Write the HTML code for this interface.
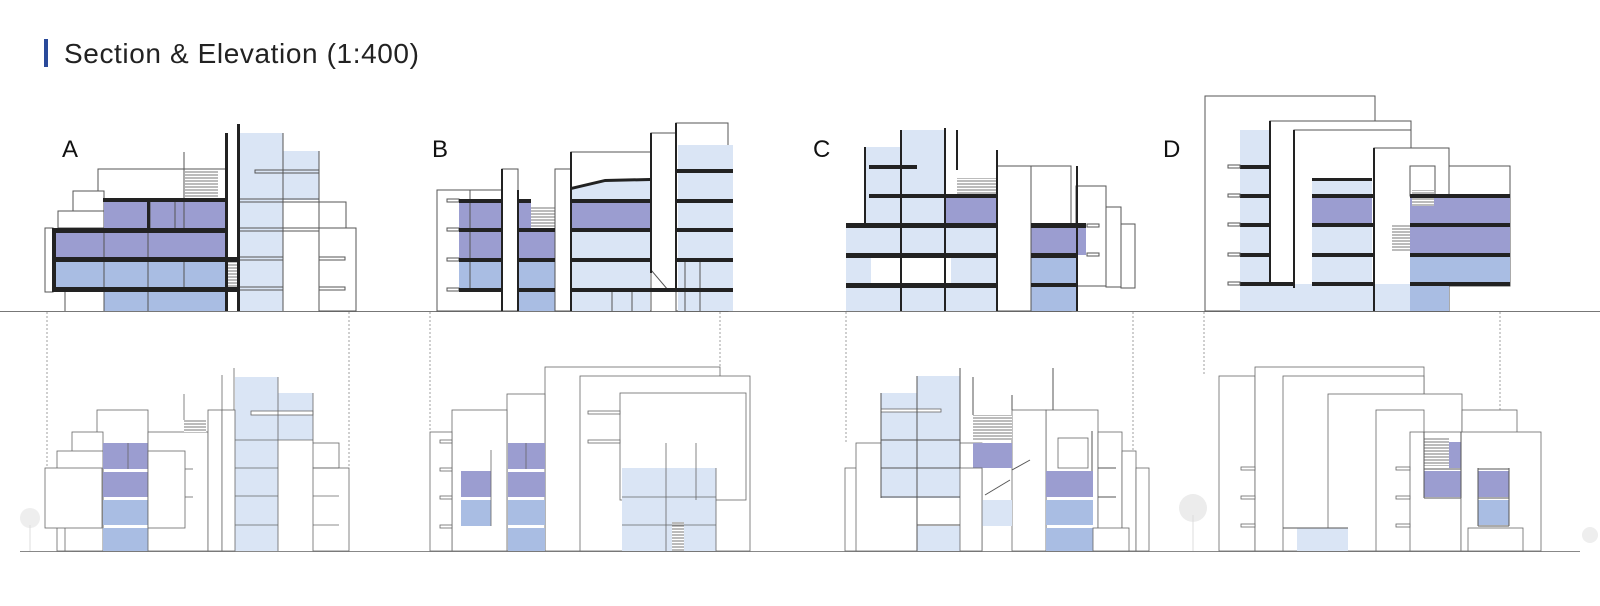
<!DOCTYPE html>
<html><head><meta charset="utf-8"><style>
html,body{margin:0;padding:0;background:#fff;}
svg{display:block}
</style></head><body>
<svg width="1600" height="606" viewBox="0 0 1600 606" xmlns="http://www.w3.org/2000/svg" font-family="Liberation Sans, sans-serif">
<defs>
<pattern id="st" width="6" height="3" patternUnits="userSpaceOnUse"><rect width="6" height="3" fill="#fff"/><line x1="0" y1="1" x2="6" y2="1" stroke="#777" stroke-width="1"/></pattern>
</defs>
<rect x="44" y="39" width="4" height="28" fill="#2a4a9a"/>
<text x="64" y="63" font-size="28" letter-spacing="0.6" fill="#222">Section &amp; Elevation (1:400)</text>
<g font-size="24" fill="#111"><text x="62" y="157">A</text><text x="432" y="157">B</text><text x="813" y="157">C</text><text x="1163" y="157">D</text></g>

<line x1="0" y1="311.5" x2="1600" y2="311.5" stroke="#777" stroke-width="1"/>
<line x1="20" y1="551.5" x2="1580" y2="551.5" stroke="#888" stroke-width="1"/>
<g stroke="#888" stroke-dasharray="2,2" stroke-width="0.8">
<line x1="47" y1="312" x2="47" y2="500"/><line x1="349" y1="312" x2="349" y2="468"/>
<line x1="430" y1="312" x2="430" y2="432"/><line x1="720" y1="312" x2="720" y2="367"/>
<line x1="846" y1="312" x2="846" y2="443"/><line x1="1133" y1="312" x2="1133" y2="465"/>
<line x1="1204" y1="312" x2="1204" y2="376"/><line x1="1500" y1="312" x2="1500" y2="420"/>
</g>

<!-- SECTION A -->
<g stroke="#555" stroke-width="1" fill="#fff">
<rect x="98" y="169" width="128" height="31"/>
<rect x="73" y="191" width="31" height="37"/>
<rect x="58" y="211" width="46" height="17"/>
<rect x="45" y="228" width="8" height="64"/>
<rect x="319" y="202" width="27" height="28"/>
<rect x="319" y="228" width="37" height="83"/>
</g>
<rect x="239" y="133" width="44" height="178" fill="#dae5f5"/>
<rect x="283" y="151" width="36" height="49" fill="#dae5f5"/>
<rect x="104" y="200" width="121" height="29" fill="#9b9dd0"/>
<rect x="55" y="230" width="170" height="29" fill="#9b9dd0"/>
<rect x="55" y="261" width="170" height="28" fill="#a9bde3"/>
<rect x="104" y="291" width="121" height="20" fill="#a9bde3"/>
<rect x="185" y="170" width="33" height="28" fill="url(#st)"/>
<rect x="226" y="258" width="12" height="30" fill="url(#st)"/>
<g stroke="#555" stroke-width="1" fill="none">
<line x1="283" y1="133" x2="283" y2="311"/><line x1="319" y1="151" x2="319" y2="311"/>
<line x1="184" y1="152" x2="184" y2="200"/>
<line x1="104" y1="230" x2="104" y2="311"/><line x1="148" y1="230" x2="148" y2="311"/>
<line x1="150" y1="200" x2="150" y2="230"/><line x1="175" y1="200" x2="175" y2="230"/>
<line x1="184" y1="200" x2="184" y2="230"/>
<line x1="184" y1="260" x2="184" y2="288"/>
<line x1="65" y1="290" x2="65" y2="311"/>
<rect x="255" y="170" width="64" height="3"/>
<rect x="239" y="199" width="80" height="3"/><rect x="239" y="228" width="80" height="3"/>
<rect x="239" y="257" width="44" height="3"/><rect x="239" y="287" width="44" height="3"/>
<rect x="319" y="257" width="26" height="3"/><rect x="319" y="287" width="26" height="3"/>
</g>
<g fill="#222">
<rect x="103" y="198" width="123" height="4"/>
<rect x="52" y="228" width="174" height="5"/>
<rect x="52" y="257" width="186" height="5"/>
<rect x="52" y="287" width="186" height="5"/>
<rect x="52" y="228" width="4" height="64"/>
<rect x="147" y="198" width="3" height="32"/>
<rect x="225" y="133" width="3" height="178"/>
<rect x="237" y="124" width="3" height="187"/>
</g>

<!-- SECTION B -->
<g stroke="#555" stroke-width="1" fill="#fff">
<rect x="437" y="190" width="65" height="121"/>
<rect x="571" y="152" width="80" height="159"/>
<rect x="676" y="123" width="52" height="188"/>
</g>
<rect x="459" y="201" width="43" height="59" fill="#9b9dd0"/>
<rect x="459" y="260" width="43" height="30" fill="#a9bde3"/>
<rect x="518" y="201" width="13" height="29" fill="#9b9dd0"/>
<rect x="518" y="230" width="37" height="30" fill="#9b9dd0"/>
<rect x="518" y="260" width="37" height="51" fill="#a9bde3"/>
<rect x="531" y="206" width="24" height="22" fill="url(#st)"/>
<rect x="555" y="228" width="16" height="18" fill="url(#st)"/>
<polygon points="572,188 605,180 650,178 650,311 572,311" fill="#dae5f5"/>
<rect x="572" y="201" width="79" height="29" fill="#9b9dd0"/>
<rect x="678" y="145" width="55" height="166" fill="#dae5f5"/>
<g stroke="#555" stroke-width="1" fill="#fff">
<rect x="502" y="169" width="16" height="142"/>
<rect x="555" y="169" width="16" height="142"/>
<polygon points="651,133 676,133 676,290 668,290 651,270"/>
</g>
<g stroke="#555" stroke-width="1" fill="none">
<line x1="470" y1="190" x2="470" y2="290"/>
<line x1="612" y1="290" x2="612" y2="311"/><line x1="632" y1="290" x2="632" y2="311"/>
<line x1="685" y1="260" x2="685" y2="311"/><line x1="700" y1="260" x2="700" y2="311"/>
<rect x="447" y="199" width="12" height="3"/><rect x="447" y="228" width="12" height="3"/>
<rect x="447" y="258" width="12" height="3"/><rect x="447" y="288" width="12" height="3"/>
</g>
<g fill="#222">
<rect x="459" y="199" width="43" height="4"/><rect x="459" y="228" width="43" height="4"/>
<rect x="459" y="258" width="43" height="4"/><rect x="459" y="288" width="43" height="4"/>
<rect x="518" y="199" width="13" height="4"/><rect x="518" y="228" width="37" height="4"/>
<rect x="518" y="258" width="37" height="4"/><rect x="518" y="288" width="37" height="4"/>
<polygon points="571,187 605,179 650,178 650,181 605,182 571,190"/>
<rect x="571" y="199" width="80" height="4"/><rect x="571" y="228" width="80" height="4"/>
<rect x="571" y="258" width="80" height="4"/><rect x="571" y="288" width="162" height="4"/>
<rect x="676" y="169" width="57" height="4"/><rect x="676" y="199" width="57" height="4"/>
<rect x="676" y="228" width="57" height="4"/><rect x="676" y="258" width="57" height="4"/>
<rect x="501" y="169" width="2" height="142"/><rect x="517" y="190" width="2" height="121"/>
<rect x="570" y="152" width="2" height="159"/><rect x="650" y="133" width="2" height="140"/>
<rect x="675" y="123" width="2" height="167"/>
</g>

<!-- SECTION C -->
<g stroke="#555" stroke-width="1" fill="#fff">
<rect x="1031" y="166" width="40" height="145"/>
<rect x="1076" y="186" width="30" height="100"/>
<rect x="1106" y="207" width="15" height="80"/>
<rect x="1121" y="224" width="14" height="64"/>
</g>
<rect x="865" y="147" width="80" height="80" fill="#dae5f5"/>
<rect x="902" y="130" width="43" height="20" fill="#dae5f5"/>
<rect x="846" y="224" width="151" height="87" fill="#dae5f5"/>
<rect x="871" y="257" width="80" height="27" fill="#fff"/>
<rect x="945" y="196" width="52" height="29" fill="#9b9dd0"/>
<rect x="957" y="178" width="40" height="18" fill="url(#st)"/>
<rect x="1031" y="225" width="55" height="30" fill="#9b9dd0"/>
<rect x="1031" y="257" width="45" height="54" fill="#a9bde3"/>
<rect x="997" y="166" width="34" height="145" fill="#fff" stroke="#555"/>
<rect x="1087" y="224" width="12" height="3" fill="#fff" stroke="#555"/>
<rect x="1087" y="253" width="12" height="3" fill="#fff" stroke="#555"/>
<g fill="#222">
<rect x="869" y="165" width="48" height="4"/>
<rect x="869" y="194" width="128" height="4"/>
<rect x="846" y="223" width="151" height="5"/>
<rect x="846" y="253" width="151" height="5"/>
<rect x="846" y="283" width="151" height="5"/>
<rect x="1031" y="223" width="55" height="5"/>
<rect x="1031" y="253" width="46" height="5"/>
<rect x="1031" y="283" width="46" height="4"/>
<rect x="864" y="147" width="2" height="80"/>
<rect x="900" y="130" width="2" height="181"/>
<rect x="944" y="128" width="2" height="183"/>
<rect x="956" y="130" width="2" height="40"/>
<rect x="996" y="150" width="2" height="161"/>
<rect x="1076" y="166" width="2" height="145"/>
</g>

<!-- SECTION D -->
<g stroke="#555" stroke-width="1" fill="#fff">
<rect x="1205" y="96" width="170" height="215"/>
<rect x="1270" y="121" width="141" height="190"/>
<rect x="1294" y="130" width="117" height="181"/>
<rect x="1374" y="148" width="75" height="163"/>
<rect x="1449" y="166" width="61" height="120"/>
</g>
<rect x="1240" y="130" width="30" height="181" fill="#dae5f5"/>
<rect x="1240" y="284" width="170" height="27" fill="#dae5f5"/>
<rect x="1312" y="180" width="60" height="16" fill="#dae5f5"/>
<rect x="1312" y="196" width="60" height="29" fill="#9b9dd0"/>
<rect x="1312" y="225" width="60" height="60" fill="#dae5f5"/>
<rect x="1410" y="196" width="100" height="29" fill="#9b9dd0"/>
<rect x="1410" y="225" width="100" height="30" fill="#9b9dd0"/>
<rect x="1410" y="255" width="100" height="30" fill="#a9bde3"/>
<rect x="1410" y="284" width="39" height="27" fill="#a9bde3"/>
<rect x="1410" y="166" width="25" height="30" fill="#fff" stroke="#555"/>
<rect x="1412" y="190" width="22" height="16" fill="url(#st)"/>
<rect x="1392" y="225" width="18" height="27" fill="url(#st)"/>
<g fill="#222">
<rect x="1240" y="165" width="30" height="4"/><rect x="1240" y="194" width="30" height="4"/>
<rect x="1240" y="223" width="30" height="4"/><rect x="1240" y="253" width="30" height="4"/>
<rect x="1240" y="282" width="55" height="4"/>
<rect x="1312" y="178" width="60" height="3"/>
<rect x="1312" y="194" width="62" height="4"/><rect x="1312" y="223" width="62" height="4"/>
<rect x="1312" y="253" width="62" height="4"/><rect x="1312" y="282" width="62" height="4"/>
<rect x="1410" y="194" width="100" height="4"/><rect x="1410" y="223" width="100" height="4"/>
<rect x="1410" y="253" width="100" height="4"/><rect x="1410" y="282" width="100" height="4"/>
<rect x="1269" y="121" width="2" height="165"/>
<rect x="1293" y="130" width="2" height="158"/>
<rect x="1373" y="148" width="2" height="163"/>
</g>
<g stroke="#555" stroke-width="1" fill="#fff">
<rect x="1228" y="165" width="12" height="3"/><rect x="1228" y="194" width="12" height="3"/>
<rect x="1228" y="223" width="12" height="3"/><rect x="1228" y="253" width="12" height="3"/>
<rect x="1228" y="282" width="12" height="3"/>
</g>

<!-- ELEVATION A -->
<g stroke="#666" stroke-width="0.8" fill="#fff">
<rect x="97" y="410" width="51" height="141"/>
<rect x="72" y="432" width="31" height="119"/>
<rect x="57" y="451" width="46" height="100"/>
<rect x="45" y="468" width="57" height="60"/>
<rect x="313" y="443" width="26" height="25"/>
<rect x="313" y="468" width="36" height="83"/>
</g>
<rect x="103" y="443" width="45" height="26" fill="#9b9dd0"/>
<rect x="103" y="472" width="45" height="25" fill="#9b9dd0"/>
<rect x="103" y="500" width="45" height="25" fill="#a9bde3"/>
<rect x="103" y="528" width="45" height="23" fill="#a9bde3"/>
<line x1="128" y1="443" x2="128" y2="469" stroke="#666" stroke-width="0.8"/>
<rect x="235" y="377" width="43" height="174" fill="#dae5f5"/>
<rect x="278" y="393" width="35" height="47" fill="#dae5f5"/>
<g stroke="#666" stroke-width="0.8" fill="#fff">
<rect x="148" y="432" width="60" height="119"/>
<rect x="148" y="451" width="37" height="77"/>
<rect x="208" y="410" width="14" height="141"/>
<rect x="222" y="410" width="13" height="141"/>
<rect x="251" y="411" width="62" height="4"/>
</g>
<rect x="184" y="420" width="22" height="12" fill="url(#st)"/>
<g stroke="#666" stroke-width="0.8" fill="none">
<line x1="278" y1="377" x2="278" y2="551"/><line x1="313" y1="393" x2="313" y2="443"/>
<line x1="235" y1="440" x2="313" y2="440"/><line x1="235" y1="468" x2="278" y2="468"/>
<line x1="235" y1="496" x2="278" y2="496"/><line x1="235" y1="525" x2="278" y2="525"/>
<line x1="313" y1="468" x2="339" y2="468"/><line x1="313" y1="496" x2="339" y2="496"/>
<line x1="313" y1="525" x2="339" y2="525"/>
<line x1="222" y1="375" x2="222" y2="410"/><line x1="234" y1="368" x2="234" y2="410"/>
<line x1="184" y1="394" x2="184" y2="420"/>
<line x1="185" y1="469" x2="193" y2="469"/><line x1="185" y1="497" x2="193" y2="497"/>
<line x1="65" y1="528" x2="65" y2="551"/>
</g>
<circle cx="30" cy="518" r="10" fill="#eee"/><line x1="30" y1="525" x2="30" y2="551" stroke="#ddd"/>

<!-- ELEVATION B -->
<g stroke="#666" stroke-width="0.8" fill="#fff">
<rect x="545" y="367" width="175" height="184"/>
<rect x="580" y="376" width="170" height="175"/>
<rect x="507" y="394" width="38" height="157"/>
<rect x="452" y="410" width="55" height="141"/>
<rect x="430" y="432" width="22" height="119"/>
<rect x="620" y="393" width="126" height="107"/>
<rect x="588" y="411" width="32" height="3"/><rect x="588" y="440" width="32" height="3"/>
<rect x="440" y="440" width="12" height="3"/><rect x="440" y="468" width="12" height="3"/>
<rect x="440" y="496" width="12" height="3"/><rect x="440" y="525" width="12" height="3"/>
</g>
<rect x="461" y="471" width="30" height="26" fill="#9b9dd0"/>
<rect x="461" y="500" width="30" height="26" fill="#a9bde3"/>
<rect x="508" y="443" width="37" height="26" fill="#9b9dd0"/>
<rect x="508" y="472" width="37" height="25" fill="#9b9dd0"/>
<rect x="508" y="500" width="37" height="25" fill="#a9bde3"/>
<rect x="508" y="528" width="37" height="23" fill="#a9bde3"/>
<rect x="622" y="468" width="94" height="83" fill="#dae5f5"/>
<rect x="672" y="522" width="12" height="29" fill="url(#st)"/>
<g stroke="#666" stroke-width="0.8" fill="none">
<line x1="526" y1="443" x2="526" y2="469"/>
<line x1="622" y1="497" x2="716" y2="497"/><line x1="622" y1="525" x2="716" y2="525"/>
<line x1="666" y1="443" x2="666" y2="551"/><line x1="716" y1="468" x2="716" y2="551"/>
<line x1="696" y1="443" x2="696" y2="500"/>
<line x1="491" y1="450" x2="491" y2="526"/>
</g>

<!-- ELEVATION C -->
<g stroke="#666" stroke-width="0.8" fill="#fff">
<rect x="845" y="468" width="137" height="83"/>
<rect x="856" y="443" width="126" height="108"/>
<rect x="1046" y="410" width="52" height="141"/>
<rect x="1012" y="410" width="34" height="141"/>
<rect x="1098" y="432" width="24" height="119"/>
<rect x="1122" y="451" width="14" height="100"/>
<rect x="1136" y="468" width="13" height="83"/>
</g>
<rect x="881" y="393" width="79" height="105" fill="#dae5f5"/>
<rect x="917" y="376" width="43" height="20" fill="#dae5f5"/>
<rect x="917" y="526" width="43" height="25" fill="#dae5f5"/>
<rect x="973" y="415" width="39" height="25" fill="url(#st)"/>
<rect x="973" y="443" width="39" height="25" fill="#9b9dd0"/>
<rect x="982" y="500" width="30" height="26" fill="#dae5f5"/>
<rect x="1046" y="471" width="47" height="26" fill="#9b9dd0"/>
<rect x="1046" y="500" width="47" height="25" fill="#a9bde3"/>
<rect x="1046" y="528" width="47" height="23" fill="#a9bde3"/>
<g stroke="#666" stroke-width="0.8" fill="#fff">
<rect x="960" y="468" width="22" height="83"/>
<rect x="1058" y="438" width="30" height="30"/>
<rect x="1093" y="528" width="36" height="23"/>
<rect x="881" y="409" width="60" height="3"/>
</g>
<g stroke="#555" stroke-width="1" fill="none">
<line x1="881" y1="393" x2="881" y2="498"/><line x1="917" y1="376" x2="917" y2="551"/>
<line x1="960" y1="368" x2="960" y2="468"/><line x1="973" y1="377" x2="973" y2="415"/>
<line x1="881" y1="440" x2="960" y2="440"/><line x1="881" y1="468" x2="960" y2="468"/>
<line x1="881" y1="497" x2="960" y2="497"/><line x1="917" y1="525" x2="960" y2="525"/>
<line x1="1012" y1="395" x2="1012" y2="410"/><line x1="1053" y1="368" x2="1053" y2="410"/>
<line x1="1092" y1="431" x2="1092" y2="471"/>
<line x1="1098" y1="468" x2="1116" y2="468"/><line x1="1098" y1="497" x2="1116" y2="497"/>
<line x1="985" y1="495" x2="1010" y2="480"/><line x1="1012" y1="470" x2="1030" y2="460"/>
</g>
<circle cx="1193" cy="508" r="14" fill="#ececec"/><line x1="1193" y1="515" x2="1193" y2="551" stroke="#ddd"/>

<!-- ELEVATION D -->
<g stroke="#666" stroke-width="0.8" fill="#fff">
<rect x="1219" y="376" width="36" height="175"/>
<rect x="1255" y="367" width="169" height="184"/>
<rect x="1283" y="376" width="141" height="175"/>
<rect x="1328" y="394" width="134" height="157"/>
<rect x="1376" y="410" width="48" height="141"/>
<rect x="1462" y="410" width="55" height="141"/>
<rect x="1410" y="432" width="51" height="119"/>
<rect x="1461" y="432" width="80" height="119"/>
</g>
<rect x="1297" y="528" width="51" height="23" fill="#dae5f5"/>
<rect x="1424" y="438" width="25" height="28" fill="url(#st)"/>
<rect x="1449" y="442" width="12" height="26" fill="#9b9dd0"/>
<rect x="1424" y="471" width="37" height="26" fill="#9b9dd0"/>
<rect x="1478" y="471" width="31" height="26" fill="#9b9dd0"/>
<rect x="1478" y="500" width="31" height="25" fill="#a9bde3"/>
<g stroke="#666" stroke-width="0.8" fill="#fff">
<rect x="1468" y="528" width="55" height="23"/>
<rect x="1241" y="467" width="14" height="3"/><rect x="1241" y="496" width="14" height="3"/>
<rect x="1241" y="524" width="14" height="3"/>
<rect x="1396" y="467" width="14" height="3"/><rect x="1396" y="496" width="14" height="3"/>
<rect x="1396" y="524" width="14" height="3"/>
</g>
<g stroke="#555" stroke-width="1" fill="none">
<line x1="1424" y1="432" x2="1424" y2="498"/><line x1="1461" y1="432" x2="1461" y2="498"/>
<line x1="1478" y1="468" x2="1478" y2="526"/><line x1="1509" y1="468" x2="1509" y2="526"/>
<line x1="1424" y1="469" x2="1461" y2="469"/><line x1="1478" y1="469" x2="1509" y2="469"/>
<line x1="1424" y1="498" x2="1461" y2="498"/><line x1="1478" y1="498" x2="1509" y2="498"/>
<line x1="1478" y1="526" x2="1509" y2="526"/>
<line x1="1283" y1="528" x2="1348" y2="528"/>
</g>
<circle cx="1590" cy="535" r="8" fill="#eee"/>
</svg>
</body></html>
